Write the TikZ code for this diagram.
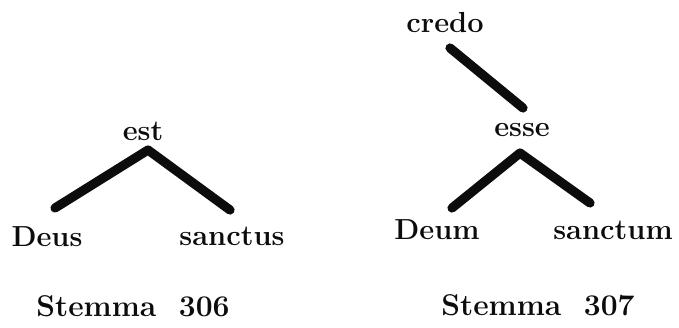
\documentclass[tikz,border=0pt]{standalone}
\usepackage{xcolor}
\definecolor{stemink}{RGB}{12,12,12}
\usetikzlibrary{positioning}

\begin{document}
\begin{tikzpicture}[x=0.5pt,y=-0.5pt,
  word/.style={inner sep=0pt,text=stemink,font=\fontsize{14.5}{18}\selectfont\bfseries},
  caption/.style={inner sep=0pt,text=stemink,font=\fontsize{15}{18}\selectfont\bfseries},
  stem/.style={draw=stemink,line width=4.6pt,line cap=round,line join=round}]
  \useasboundingbox (0,0) rectangle (679,327);
  % Stemma 306
  \node[word] (est) at (143,131) {est};
  \node[word] (deus) at (47,237) {Deus};
  \node[word] (sanctus) at (232,236) {sanctus};
  \node[caption] (cap306) at (133,306) {Stemma\ \ 306};
  \coordinate (est-foot) at (148,150);
  \coordinate (deus-top) at (55,208);
  \coordinate (sanctus-top) at (230,210);
  \draw[stem] (deus-top) -- (est-foot) -- (sanctus-top);
  % Stemma 307
  \node[word] (credo) at (445,23) {credo};
  \node[word] (esse) at (522,130) {esse};
  \node[word] (deum) at (437,230) {Deum};
  \node[word] (sanctum) at (613,230) {sanctum};
  \node[caption] (cap307) at (538,305) {Stemma\ \ 307};
  \coordinate (credo-foot) at (450,48);
  \coordinate (esse-top) at (523,108);
  \coordinate (esse-foot) at (520,153);
  \coordinate (deum-top) at (452,208);
  \coordinate (sanctum-top) at (590,203);
  \draw[stem] (credo-foot) -- (esse-top);
  \draw[stem] (deum-top) -- (esse-foot) -- (sanctum-top);
\end{tikzpicture}
\end{document}
